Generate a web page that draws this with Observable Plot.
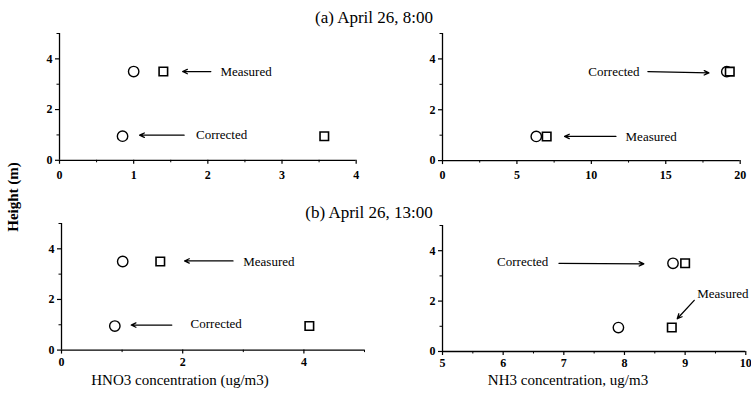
<!DOCTYPE html>
<html><head><meta charset="utf-8">
<script src="https://cdn.jsdelivr.net/npm/d3@7"></script>
<script src="https://cdn.jsdelivr.net/npm/@observablehq/plot@0.6"></script>
<style>
body{margin:0;background:#fff;}
#root{position:relative;width:751px;height:393px;overflow:hidden;background:#fff;font-family:"Liberation Serif","Times New Roman",serif;color:#000;}
.t{position:absolute;white-space:nowrap;transform:translate(-50%,-50%);line-height:1;}
svg{position:absolute;overflow:visible;}
</style></head><body><div id="root"></div>
<script>
// ---- data ----
const heights = [3.5, 0.95];                 // sampling heights (m)
const measuredA_HNO3 = [1.40, 3.57];
const correctedA_HNO3 = [1.00, 0.85];
const measuredA_NH3 = [19.3, 7.0];
const correctedA_NH3 = [19.1, 6.3];
const measuredB_HNO3 = [1.63, 4.09];
const correctedB_HNO3 = [1.01, 0.88];
const measuredB_NH3 = [9.0, 8.78];
const correctedB_NH3 = [8.8, 7.9];

const yTicks = [0, 2, 4];
const yMinor = [1, 3, 5];
const xTicksHNO3a = [0, 1, 2, 3, 4];
const xMinorHNO3a = [0.5, 1.5, 2.5, 3.5];
const xTicksNH3a = [0, 5, 10, 15, 20];
const xMinorNH3a = [2.5, 7.5, 12.5, 17.5];
const xTicksHNO3b = [0, 2, 4];
const xMinorHNO3b = [1, 3, 5];
const xTicksNH3b = [5, 6, 7, 8, 9, 10];
const xMinorNH3b = [5.5, 6.5, 7.5, 8.5, 9.5];

// annotations (data units): label anchor and arrow from -> to
const notesA_HNO3 = [
  {label: "Measured", tx: 2.17, ty: 3.5, x1: 2.04, y1: 3.5, x2: 1.66, y2: 3.5},
  {label: "Corrected", tx: 1.84, ty: 1.02, x1: 1.68, y1: 0.99, x2: 1.08, y2: 0.99}
];
const notesA_NH3 = [
  {label: "Corrected", tx: 9.8, ty: 3.5, x1: 13.8, y1: 3.5, x2: 17.9, y2: 3.45},
  {label: "Measured", tx: 12.3, ty: 0.95, x1: 11.65, y1: 0.95, x2: 8.2, y2: 0.95}
];
const notesB_HNO3 = [
  {label: "Measured", tx: 3.0, ty: 3.5, x1: 2.83, y1: 3.52, x2: 2.03, y2: 3.52},
  {label: "Corrected", tx: 2.13, ty: 1.05, x1: 1.82, y1: 0.99, x2: 1.15, y2: 0.99}
];
const notesB_NH3 = [
  {label: "Corrected", tx: 5.9, ty: 3.55, x1: 6.92, y1: 3.5, x2: 8.32, y2: 3.48},
  {label: "Measured", tx: 9.2, ty: 2.3, x1: 9.15, y1: 2.03, x2: 8.87, y2: 1.3}
];

const panels = [
  {xDomain: [0, 4], xTicks: xTicksHNO3a, xMinor: xMinorHNO3a, measured: measuredA_HNO3, corrected: correctedA_HNO3, notes: notesA_HNO3, pad: 6, box: {x0: 59.3, x1: 356, yt: 32.7, yb: 159.5}},
  {xDomain: [0, 20], xTicks: xTicksNH3a, xMinor: xMinorNH3a, measured: measuredA_NH3, corrected: correctedA_NH3, notes: notesA_NH3, pad: 6, box: {x0: 442.3, x1: 740, yt: 32.7, yb: 159.8}},
  {xDomain: [0, 5], xTicks: xTicksHNO3b, xMinor: xMinorHNO3b, measured: measuredB_HNO3, corrected: correctedB_HNO3, notes: notesB_HNO3, pad: 3, box: {x0: 61, x1: 364, yt: 223, yb: 349.6}},
  {xDomain: [5, 10], xTicks: xTicksNH3b, xMinor: xMinorNH3b, measured: measuredB_NH3, corrected: correctedB_NH3, notes: notesB_NH3, pad: 3, box: {x0: 441.7, x1: 745, yt: 225, yb: 351.0}}
];

const root = document.getElementById("root");
const ML = 34, MR = 14, MT = 8, MB = 26;

for (const p of panels) {
  const rows = heights.map((h, i) => ({h, m: p.measured[i], c: p.corrected[i]}));
  const w = p.box.x1 - p.box.x0, hgt = p.box.yb - p.box.yt;
  const svg = Plot.plot({
    width: w + ML + MR, height: hgt + MT + MB,
    marginLeft: ML, marginRight: MR, marginTop: MT, marginBottom: MB,
    x: {domain: p.xDomain},
    y: {domain: [0, 5]},
    style: {fontFamily: "'Liberation Serif', 'Times New Roman', serif", fontSize: "12px", fontWeight: "bold", background: "transparent", color: "black", overflow: "visible"},
    marks: [
      Plot.ruleY([0], {stroke: "black", strokeWidth: 1.3}),
      Plot.ruleX([p.xDomain[0]], {y1: 0, y2: 5, stroke: "black", strokeWidth: 1.3}),
      Plot.axisX(p.xTicks, {tickSize: 4, tickPadding: p.pad, label: null, strokeWidth: 1.2, strokeOpacity: 1}),
      Plot.axisX(p.xMinor, {tickSize: 2.5, tickFormat: () => "", label: null, strokeWidth: 1, strokeOpacity: 1}),
      Plot.axisY(yTicks, {tickSize: 4, tickPadding: 3, label: null, strokeWidth: 1.2, strokeOpacity: 1}),
      Plot.axisY(yMinor, {tickSize: 2.5, tickFormat: () => "", label: null, strokeWidth: 1, strokeOpacity: 1}),
      Plot.arrow(p.notes, {x1: "x1", y1: "y1", x2: "x2", y2: "y2", stroke: "black", strokeWidth: 1.3, headLength: 6, headAngle: 50}),
      Plot.text(p.notes, {x: "tx", y: "ty", text: "label", textAnchor: "start", fontSize: 13, fontWeight: "normal", fill: "black"}),
      Plot.dot(rows, {x: "c", y: "h", r: 5.2, stroke: "black", strokeWidth: 1.4, fill: "white"}),
      Plot.dot(rows, {x: "m", y: "h", symbol: "square", r: 4.8, stroke: "black", strokeWidth: 1.6, fill: "white"})
    ]
  });
  svg.style.left = (p.box.x0 - ML) + "px";
  svg.style.top = (p.box.yt - MT) + "px";
  root.appendChild(svg);
}

function addText(txt, x, y, css) {
  const d = document.createElement("div");
  d.className = "t";
  d.textContent = txt;
  d.style.left = x + "px";
  d.style.top = y + "px";
  Object.assign(d.style, css || {});
  root.appendChild(d);
  return d;
}
addText("(a) April 26, 8:00", 374, 17, {fontSize: "17px"});
addText("(b) April 26, 13:00", 369, 212, {fontSize: "17px"});
addText("HNO3 concentration (ug/m3)", 180, 380, {fontSize: "15px"});
addText("NH3 concentration, ug/m3", 568, 380, {fontSize: "15px"});
addText("Height (m)", 13, 197, {fontSize: "15px", fontWeight: "bold", transform: "translate(-50%,-50%) rotate(-90deg)"});
</script>
</body></html>
